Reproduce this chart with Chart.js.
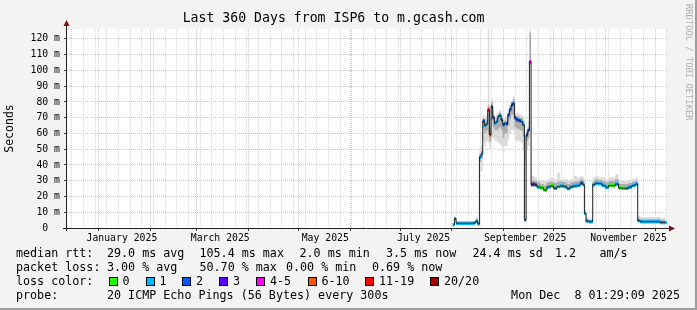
<!DOCTYPE html>
<html>
<head>
<meta charset="utf-8">
<script src="https://cdn.jsdelivr.net/npm/chart.js@4.4.1/dist/chart.umd.min.js"></script>
<style>
    html, body { margin: 0; padding: 0; background: #f3f3f3; }
    canvas { display: block; }
</style>
</head>
<body>
<canvas id="chart" width="697" height="310" style="width:697px;height:310px"></canvas>
<script>
// Smokeping: last 360 days, ISP6 -> m.gcash.com (dates are 2025, MM-DD)
const dates = [
    '08-02','08-03','08-04','08-05','08-06','08-07','08-08','08-09','08-10','08-11',
    '08-12','08-13','08-14','08-15','08-16','08-17','08-18','08-19','08-20','08-21',
    '08-22','08-23','08-24','08-25','08-26','08-27','08-28','08-29','08-30','08-31',
    '09-01','09-02','09-03','09-04','09-05','09-06','09-07','09-08','09-09','09-10',
    '09-11','09-12','09-13','09-14','09-15','09-16','09-17','09-18','09-19','09-20',
    '09-22','09-24','09-26','09-28','09-30','10-02','10-04','10-06','10-08','10-10',
    '10-12','10-14','10-16','10-18','10-19','10-20','10-21','10-23','10-24','10-25',
    '10-27','10-29','10-31','11-02','11-04','11-06','11-08','11-10','11-12','11-14',
    '11-16','11-18','11-20','11-21','11-23','11-25','11-27','11-29','12-01','12-03',
    '12-05','12-07'
];

// median rtt (ms)
const median = [
    2, 6, 3, 3, 3, 3, 3, 3, 3, 3,
    3, 3, 3, 3.5, 4.5, 2.5, 45, 47, 68, 65,
    66, 75, 59, 77, 70, 66.5, 67.5, 70.7, 71.7, 68.6,
    65.4, 66.5, 66, 71.7, 75, 78, 79, 70, 68.6, 68.6,
    68, 67.5, 65.4, 5, 59, 62, 105.6, 27.5, 27.8, 27.5,
    26, 25.5, 24.1, 26, 26.7, 25.2, 26.2, 26.7, 26.2, 25,
    26.2, 26.7, 27, 28.5, 27.5, 9.3, 4.4, 4, 4, 27.5,
    28.4, 28.2, 27, 25.8, 27, 26.8, 27.9, 25.4, 25.2, 25.2,
    26, 27, 27.9, 4.7, 4, 4, 4, 4, 4, 4,
    3.5, 3.5
];

// loss class per sample (index into lossLabels)
const lossClass = [
    1, 1, 1, 1, 1, 1, 1, 1, 1, 1,
    1, 1, 1, 1, 1, 1, 1, 1, 2, 1,
    1, 6, 5, 2, 2, 1, 1, 1, 1, 2,
    2, 1, 2, 2, 2, 2, 2, 2, 2, 2,
    2, 1, 1, 1, 2, 2, 4, 3, 3, 2,
    1, 0, 0, 1, 0, 1, 0, 1, 1, 1,
    1, 1, 1, 2, 1, 1, 1, 1, 1, 1,
    1, 1, 1, 1, 0, 0, 1, 0, 0, 1,
    1, 1, 1, 1, 1, 1, 1, 1, 1, 1,
    1, 1
];

// smoke: outer spread of the 20 pings
const smokeMin = [
    1.5, 5, 2.5, 2.5, 2.5, 2.5, 2.5, 2.5, 2.5, 2.5,
    2.5, 2.5, 2.5, 3, 3, 2, 36, 36, 55, 52,
    55, 54, 50, 56, 57, 55, 55, 54, 53, 52,
    48, 52, 52, 56, 60, 62, 62, 56, 55, 55,
    55, 54, 50, 40, 50, 52, 104, 26, 26, 26,
    25, 24.5, 23, 25, 25.5, 24.5, 25.5, 25.5, 25.5, 24.5,
    25.5, 25.5, 26, 27, 26, 8, 3.5, 3.5, 3.5, 26,
    27, 27, 26, 25, 26, 26, 26.5, 24.5, 24.5, 24.5,
    25, 26, 27, 4, 3.5, 3.5, 3.5, 3.5, 3.5, 3.5,
    3, 3
];
const smokeMax = [
    3, 7, 4.5, 4, 4, 4, 4, 4, 4, 4,
    4, 4, 4, 6, 7, 4, 51, 52, 72, 70,
    72, 126, 70, 82, 75, 70, 72, 74, 75, 72,
    69, 70, 71, 75, 78, 81, 84, 75, 73, 73,
    72, 72, 70, 58, 62, 68, 126, 33, 33, 32,
    31, 30, 30, 31, 32, 31, 35, 31, 31, 30,
    31, 33, 32, 33, 32, 12, 7, 6, 6, 32,
    33, 32, 32, 31, 32, 32, 34, 30, 30, 30,
    30, 31, 32, 8, 7, 7, 7, 7, 7, 7,
    6.5, 6.5
];
// smoke: inner (denser) part
const smokeLow = [
    1.8, 5.5, 2.8, 2.8, 2.8, 2.8, 2.8, 2.8, 2.8, 2.8,
    2.8, 2.8, 2.8, 3.2, 4, 2.2, 42, 44, 63, 60,
    62, 60, 55, 68, 64, 62, 62, 63, 64, 62,
    57, 60, 60, 65, 69, 72, 72, 64, 63, 63,
    62, 62, 58, 40, 55, 57, 105, 27, 27, 27,
    25.5, 25, 23.5, 25.5, 26, 25, 26, 26, 26, 25,
    26, 26, 26.5, 28, 27, 8.5, 4, 3.8, 3.8, 27,
    28, 28, 26.5, 25.5, 26.5, 26.5, 27, 25, 25, 25,
    25.5, 26.5, 27.5, 4.3, 3.8, 3.8, 3.8, 3.8, 3.8, 3.8,
    3.3, 3.3
];
const smokeHigh = [
    2.5, 6.5, 3.5, 3.4, 3.4, 3.4, 3.4, 3.4, 3.4, 3.4,
    3.4, 3.4, 3.4, 4.5, 5.5, 3, 47, 49, 70, 68,
    69, 78, 64, 80, 72, 68, 70, 72, 73, 70,
    67, 68, 68, 73, 77, 80, 82, 72, 71, 71,
    70, 70, 68, 40, 61, 64, 124, 30, 30, 30,
    29, 28, 27, 29, 29.5, 28.5, 29.5, 29.5, 29, 28,
    29, 29.5, 30, 31, 30, 10, 5.5, 5, 5, 30,
    31, 30.5, 30, 29, 30, 30, 31, 28, 28, 28,
    28.5, 29.5, 30, 6, 5.5, 5.5, 5.5, 5.5, 5.5, 5.5,
    5, 5
];

const lossLabels = ['0', '1', '2', '3', '4-5', '6-10', '11-19', '20/20'];
const lossColors = ['#26ff00', '#00b8ff', '#0059ff', '#5e00ff', '#ff00ff', '#ff5500', '#ff0000', '#a00000'];

// x axis: month grid, labels sit mid-month
const monthStarts = ['01-01','02-01','03-01','04-01','05-01','06-01','07-01','08-01','09-01','10-01','11-01','12-01'];
const monthLabels = ['January 2025', 'March 2025', 'May 2025', 'July 2025', 'September 2025', 'November 2025'];
const monthLabelDates = ['01-15', '03-15', '05-17', '07-15', '09-14', '11-15'];
const yMajor = [0, 10, 20, 30, 40, 50, 60, 70, 80, 90, 100, 110, 120];

const legendRtt = ['median rtt:', '29.0 ms avg', '105.4 ms max', '2.0 ms min', '3.5 ms now', '24.4 ms sd', '1.2', 'am/s'];
const legendLoss = ['packet loss:', '3.00 % avg', '50.70 % max', '0.00 % min', '0.69 % now'];
const probeText = '20 ICMP Echo Pings (56 Bytes) every 300s';
const stampText = 'Mon Dec  8 01:29:09 2025';

// ---- helpers
const dayOf = (md) => (Date.UTC(2025, +md.slice(0, 2) - 1, +md.slice(3, 5)) - Date.UTC(2025, 0, 1)) / 864e5;
const endDay = dayOf('12-08') + (1 * 60 + 29) / 1440;
const startDay = endDay - 360;
const yMax = 126.3;

const days = dates.map(dayOf);
const pts = (arr) => arr.map((v, i) => ({ x: days[i], y: v }));

const MONO = 'DejaVu Sans Mono';
const RED_GRID = '#f6b9b9';
const GRAY_GRID = '#d6d6d6';

// x ticks: weeks (Mondays), month starts, labels
const xTicks = [];
for (let d = dayOf('01-06') - 21; d <= endDay; d += 7) {
    if (d >= startDay) xTicks.push({ value: d, kind: 'week' });
}
monthStarts.forEach(m => xTicks.push({ value: dayOf(m), kind: 'month' }));
monthLabelDates.forEach((m, i) => xTicks.push({ value: dayOf(m), kind: 'label', text: monthLabels[i] }));
xTicks.sort((a, b) => a.value - b.value);

const yTicks = [];
yMajor.forEach(v => { yTicks.push({ value: v }); yTicks.push({ value: v + 5 }); });

// dash half-width for loss marks, from sample spacing
const pxPerDay = 600 / 360;
function markRadius(c) {
    const i = c.dataIndex;
    const prev = i > 0 ? days[i] - days[i - 1] : days[i + 1] - days[i];
    const next = i < days.length - 1 ? days[i + 1] - days[i] : prev;
    return (prev + next) / 4 * pxPerDay + 0.1;
}

const rrdDecor = {
    id: 'rrdDecor',
    beforeDraw(chart) {
        const { ctx, chartArea: a, width, height } = chart;
        ctx.save();
        ctx.fillStyle = '#f3f3f3';
        ctx.fillRect(0, 0, width, height);
        ctx.fillStyle = '#ffffff';
        ctx.fillRect(a.left, a.top, a.right - a.left, a.bottom - a.top);
        ctx.restore();
    },
    afterDraw(chart) {
        const { ctx, chartArea: a, width, height } = chart;
        ctx.save();

        // axes + arrows
        ctx.strokeStyle = '#222';
        ctx.lineWidth = 1;
        ctx.beginPath();
        ctx.moveTo(a.left - 0.5, a.bottom + 3);
        ctx.lineTo(a.left - 0.5, a.top - 5);
        ctx.moveTo(a.left - 4, a.bottom + 0.5);
        ctx.lineTo(a.right + 3, a.bottom + 0.5);
        ctx.stroke();
        ctx.fillStyle = '#7f1010';
        ctx.beginPath();
        ctx.moveTo(a.left - 0.5, a.top - 9);
        ctx.lineTo(a.left - 3.5, a.top - 3);
        ctx.lineTo(a.left + 2.5, a.top - 3);
        ctx.fill();
        ctx.beginPath();
        ctx.moveTo(a.right + 8, a.bottom + 0.5);
        ctx.lineTo(a.right + 2, a.bottom - 2.5);
        ctx.lineTo(a.right + 2, a.bottom + 3.5);
        ctx.fill();

        // legend block
        ctx.font = `11.7px "${MONO}"`;
        ctx.fillStyle = '#000';
        ctx.textBaseline = 'middle';
        const rttX = [16, 107, 199.5, 299.5, 386, 472.5, 555, 599.5];
        legendRtt.forEach((t, i) => ctx.fillText(t, rttX[i], 254));
        const lossX = [16, 107, 199.5, 286, 372];
        legendLoss.forEach((t, i) => ctx.fillText(t, lossX[i], 268));

        ctx.fillText('loss color:', 16, 281.5);
        const boxX = [108.5, 145.5, 182, 219, 256, 307.5, 365, 430];
        lossLabels.forEach((t, i) => {
            const bx = Math.round(boxX[i]);
            ctx.fillStyle = lossColors[i];
            ctx.fillRect(bx, 277, 9, 9);
            ctx.strokeStyle = '#000';
            ctx.strokeRect(bx + 0.5, 277.5, 8, 8);
            ctx.fillStyle = '#000';
            ctx.fillText(t, boxX[i] + 14, 281.5);
        });

        ctx.fillText('probe:', 16, 295.5);
        ctx.fillText(probeText, 107, 295.5);
        ctx.textAlign = 'right';
        ctx.fillText(stampText, 680, 295.5);

        // watermark
        ctx.save();
        ctx.translate(685, 4);
        ctx.rotate(Math.PI / 2);
        ctx.textAlign = 'left';
        ctx.font = `8.8px "${MONO}"`;
        ctx.fillStyle = '#b0b0b0';
        ctx.fillText('RRDTOOL / TOBI OETIKER', 0, -3);
        ctx.restore();

        // 3d frame bottom/right
        ctx.fillStyle = '#9d9d9d';
        ctx.fillRect(width - 2, 0, 2, height);
        ctx.fillRect(0, height - 2, width, 2);
        ctx.restore();
    }
};

const ctx = document.getElementById('chart').getContext('2d');
new Chart(ctx, {
    type: 'line',
    data: {
        datasets: [
            { data: pts(smokeMin), borderWidth: 0, pointRadius: 0, stepped: 'middle', fill: false, order: 6 },
            { data: pts(smokeMax), borderWidth: 0, pointRadius: 0, stepped: 'middle', fill: '-1', backgroundColor: '#dcdcdc', order: 5 },
            { data: pts(smokeLow), borderWidth: 0, pointRadius: 0, stepped: 'middle', fill: false, order: 4 },
            { data: pts(smokeHigh), borderWidth: 0, pointRadius: 0, stepped: 'middle', fill: '-1', backgroundColor: '#acacac', order: 3 },
            {
                data: pts(median), showLine: false, order: 2,
                pointStyle: 'line', pointRadius: markRadius,
                pointBorderWidth: 3.5, pointBorderColor: lossClass.map(k => lossColors[k])
            },
            { data: pts(median), borderColor: '#1c1c1c', borderWidth: 1, pointRadius: 0, stepped: 'middle', fill: false, order: 1 }
        ]
    },
    options: {
        responsive: false,
        animation: false,
        devicePixelRatio: 1,
        events: [],
        layout: { padding: { left: 0, right: 30, top: 0, bottom: 0 } },
        plugins: {
            legend: { display: false },
            tooltip: { enabled: false },
            title: {
                display: true,
                text: 'Last 360 Days from ISP6 to m.gcash.com',
                color: '#000',
                font: { family: MONO, size: 13.2, weight: 'normal', lineHeight: 1.2 },
                padding: { top: 11, bottom: 2.16 }
            }
        },
        scales: {
            x: {
                type: 'linear',
                min: startDay,
                max: endDay,
                afterBuildTicks: (s) => { s.ticks = xTicks.map(t => ({ ...t })); },
                afterFit: (s) => { s.height = 82; },
                border: { display: false, dash: [1, 1] },
                grid: {
                    lineWidth: 1,
                    tickLength: 3,
                    tickBorderDash: [],
                    color: (c) => c.tick && c.tick.kind === 'month' ? RED_GRID : (c.tick && c.tick.kind === 'week' ? GRAY_GRID : 'rgba(0,0,0,0)'),
                    tickColor: (c) => c.tick && c.tick.kind === 'month' ? '#444' : 'rgba(0,0,0,0)'
                },
                ticks: {
                    autoSkip: false,
                    maxRotation: 0,
                    minRotation: 0,
                    padding: 2,
                    color: '#000',
                    font: { family: MONO, size: 9.8 },
                    callback: (v, i, ticks) => ticks[i].text || ''
                }
            },
            y: {
                min: 0,
                max: yMax,
                afterBuildTicks: (s) => { s.ticks = yTicks.map(t => ({ ...t })); },
                afterFit: (s) => { s.width = 67; },
                border: { display: false, dash: [1, 1] },
                grid: {
                    lineWidth: 1,
                    tickLength: 3,
                    tickBorderDash: [],
                    color: (c) => c.tick && c.tick.value % 10 === 0 ? RED_GRID : GRAY_GRID,
                    tickColor: (c) => c.tick && c.tick.value % 10 === 0 ? '#444' : 'rgba(0,0,0,0)'
                },
                ticks: {
                    padding: 4,
                    color: '#000',
                    font: { family: MONO, size: 9.8 },
                    callback: (v) => v % 10 ? '' : (v === 0 ? '0  ' : v + ' m')
                },
                title: {
                    display: true,
                    text: 'Seconds',
                    color: '#000',
                    font: { family: MONO, size: 11.5 },
                    padding: { top: 3, bottom: 0 }
                }
            }
        }
    },
    plugins: [rrdDecor]
});
</script>
</body>
</html>
